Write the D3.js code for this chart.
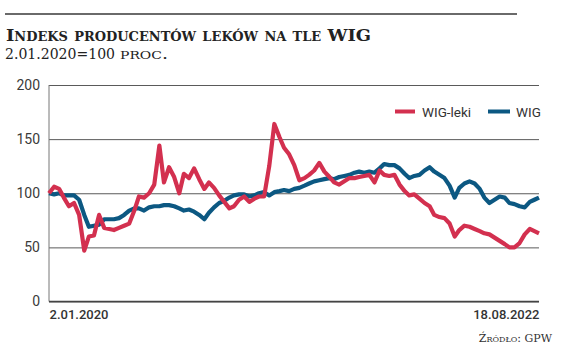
<!DOCTYPE html>
<html><head><meta charset="utf-8">
<script src="https://cdn.jsdelivr.net/npm/d3@7"></script>
<style>
html,body{margin:0;padding:0;background:#fff;}
svg{display:block;}
</style></head>
<body>
<svg id="chart" width="564" height="356"></svg>
<script>
const dates = [
"2020-01-02","2020-01-12","2020-01-22","2020-01-31","2020-02-10","2020-02-20","2020-03-01","2020-03-11","2020-03-20","2020-03-30",
"2020-04-09","2020-04-19","2020-04-29","2020-05-08","2020-05-18","2020-05-28","2020-06-07","2020-06-17","2020-06-26","2020-07-06",
"2020-07-16","2020-07-26","2020-08-05","2020-08-14","2020-08-24","2020-09-03","2020-09-13","2020-09-22","2020-10-02","2020-10-12",
"2020-10-22","2020-11-01","2020-11-10","2020-11-20","2020-11-30","2020-12-10","2020-12-20","2020-12-29","2021-01-08","2021-01-18",
"2021-01-28","2021-02-07","2021-02-16","2021-02-26","2021-03-08","2021-03-18","2021-03-28","2021-04-06","2021-04-16","2021-04-26",
"2021-05-06","2021-05-16","2021-05-25","2021-06-04","2021-06-14","2021-06-24","2021-07-04","2021-07-13","2021-07-23","2021-08-02",
"2021-08-12","2021-08-22","2021-08-31","2021-09-10","2021-09-20","2021-09-30","2021-10-10","2021-10-19","2021-10-29","2021-11-08",
"2021-11-18","2021-11-28","2021-12-07","2021-12-17","2021-12-27","2022-01-06","2022-01-16","2022-01-25","2022-02-04","2022-02-14",
"2022-02-24","2022-03-06","2022-03-15","2022-03-25","2022-04-04","2022-04-14","2022-04-24","2022-05-03","2022-05-13","2022-05-23",
"2022-06-02","2022-06-12","2022-06-21","2022-07-01","2022-07-11","2022-07-21","2022-07-31","2022-08-09","2022-08-18"];

const wigLeki = [
100,106,104,96,88,91,80,47,60,61,
80,68,67,66,68,70,72,84,97,96,
100,108,144,110,124,115,100,118,114,123,
113,104,110,105,98,92,86,88,94,97,
92,95,97,97,125,164,152,142,136,126,
112,114,117,121,128,120,115,110,108,111,
114,114,115,116,117,110,121,117,116,117,
108,102,98,99,95,91,88,80,78,77,
72,60,66,70,69,67,65,63,62,59,
56,53,50,50,54,62,67,65,63];

const wig = [
100,99,100,98,98,98,94,80,69,70,
71,76,76,76,77,80,84,86,86,84,
87,88,88,89,89,88,86,84,85,83,
80,76,82,87,91,93,96,98,99,99,
97,98,100,101,98,101,102,103,102,104,
105,107,109,111,112,113,114,113,115,116,
117,119,120,119,120,119,123,127,126,126,
123,118,114,116,117,121,124,120,117,114,
107,96,105,109,111,109,104,96,91,94,
97,96,91,90,88,87,92,94,96];

const yTicks = [0, 50, 100, 150, 200];
const xTickLabels = ["2.01.2020", "18.08.2022"];
const seriesNames = ["WIG-leki", "WIG"];
const colors = {"WIG-leki": "#d3304f", "WIG": "#0c5882"};

(function () {
const parse = d3.timeParse("%Y-%m-%d");
const dDates = dates.map(parse);

const svg = d3.select("#chart");
const mLeft = 49, mRight = 539, mTop = 85, mBottom = 301.5;

const x = d3.scaleTime().domain([dDates[0], dDates[dDates.length - 1]]).range([mLeft, mRight]);
const y = d3.scaleLinear().domain([0, 200]).range([mBottom, mTop]);

// top rule
svg.append("line").attr("x1", 5).attr("x2", 517).attr("y1", 14).attr("y2", 14)
  .attr("stroke", "#6a6a6a").attr("stroke-width", 2);

// title
svg.append("text").attr("x", 6).attr("y", 41)
  .attr("font-family", "DejaVu Serif").attr("font-weight", "bold")
  .attr("font-size", 16.5).style("font-variant", "small-caps")
  .attr("fill", "#222").attr("textLength", 365).attr("lengthAdjust", "spacingAndGlyphs")
  .text("Indeks producentów leków na tle WIG");

svg.append("text").attr("x", 5).attr("y", 58.5).attr("fill", "#222")
  .attr("font-family", "DejaVu Serif").attr("font-size", 15)
  .attr("textLength", 110).attr("lengthAdjust", "spacingAndGlyphs")
  .text("2.01.2020=100");
svg.append("text").attr("x", 120).attr("y", 58.5).attr("fill", "#222")
  .attr("font-family", "DejaVu Serif").attr("font-size", 15)
  .style("font-variant", "small-caps")
  .attr("textLength", 48).attr("lengthAdjust", "spacingAndGlyphs")
  .text("proc.");

// y axis with gridlines
const yAxis = d3.axisLeft(y).tickValues(yTicks).tickSize(-(mRight - mLeft)).tickPadding(9);
const gy = svg.append("g").attr("transform", `translate(${mLeft},0)`).call(yAxis);
gy.select(".domain").remove();
gy.selectAll(".tick line").attr("stroke", "#5a5a5a").attr("stroke-width", 1);
gy.selectAll(".tick text").attr("font-family", "Roboto").attr("font-size", 14)
  .attr("fill", "#3a3a3a");

// left axis line
svg.append("line").attr("x1", mLeft).attr("x2", mLeft).attr("y1", mTop).attr("y2", mBottom)
  .attr("stroke", "#777").attr("stroke-width", 1);
// bottom axis line
svg.append("line").attr("x1", mLeft).attr("x2", mRight).attr("y1", mBottom).attr("y2", mBottom)
  .attr("stroke", "#444").attr("stroke-width", 1.3);

// x axis labels
const xAxis = d3.axisBottom(x).tickValues([dDates[0], dDates[dDates.length - 1]])
  .tickSize(0).tickPadding(8).tickFormat((d, i) => xTickLabels[i]);
const gx = svg.append("g").attr("transform", `translate(0,${mBottom})`).call(xAxis);
gx.select(".domain").remove();
gx.selectAll(".tick text").attr("font-family", "Roboto").attr("font-weight", 500)
  .attr("font-size", 13).attr("fill", "#333")
  .attr("text-anchor", (d, i) => i === 0 ? "start" : "end");

// lines
const line = d3.line().x((d, i) => x(dDates[i])).y(d => y(d)).curve(d3.curveLinear);
svg.append("path").datum(wig).attr("d", line).attr("fill", "none")
  .attr("stroke", colors["WIG"]).attr("stroke-width", 4.2).attr("stroke-linejoin", "round");
svg.append("path").datum(wigLeki).attr("d", line).attr("fill", "none")
  .attr("stroke", colors["WIG-leki"]).attr("stroke-width", 4.2).attr("stroke-linejoin", "round");

// legend
const legendItems = [{name: "WIG-leki", x1: 395, x2: 415, tx: 422}, {name: "WIG", x1: 488, x2: 510, tx: 516}];
const lg = svg.append("g");
legendItems.forEach(it => {
  lg.append("line").attr("x1", it.x1).attr("x2", it.x2).attr("y1", 111.5).attr("y2", 111.5)
    .attr("stroke", colors[it.name]).attr("stroke-width", 4);
  lg.append("text").attr("x", it.tx).attr("y", 116.5).attr("font-family", "Roboto")
    .attr("font-size", 13.5).attr("fill", "#333").text(it.name);
});

// source
svg.append("text").attr("x", 552).attr("y", 342).attr("text-anchor", "end")
  .attr("font-family", "DejaVu Serif").attr("font-size", 11).style("font-variant", "small-caps")
  .attr("fill", "#333").text("Źródło: GPW");
})();
</script>
</body></html>
